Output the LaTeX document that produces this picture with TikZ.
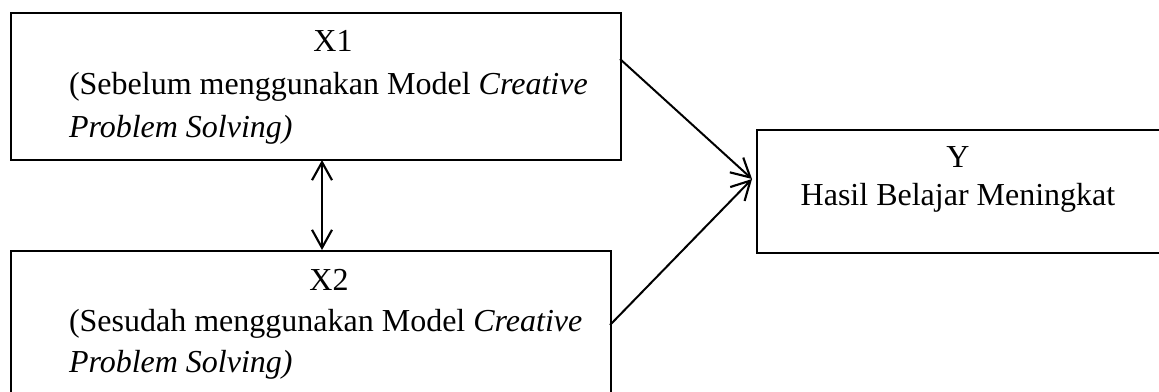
\documentclass[tikz,border=0pt]{standalone}
\usepackage{fontspec}
\setmainfont{Liberation Serif}
\usetikzlibrary{arrows.meta}
\begin{document}
\begin{tikzpicture}[x=0.375pt,y=-0.375pt, line width=0.75pt,
  box/.style={draw, rectangle, inner sep=0pt, anchor=north west},
  lbl/.style={inner sep=0pt, font=\fontsize{12}{14}\selectfont},
  arr/.style={-{Straight Barb[length=7pt,width=7.5pt,line width=0.8pt]}},
  dbl/.style={{Straight Barb[length=6.75pt,width=7.5pt,line width=0.8pt]}-{Straight Barb[length=6.75pt,width=7.5pt,line width=0.8pt]}}]
\useasboundingbox (0,0) rectangle (1159,392);
% boxes
\node[box, minimum width=228.75pt, minimum height=55.125pt] (x1) at (10,12) {};
\node[box, minimum width=225pt, minimum height=54.75pt] (x2) at (10,250) {};
\node[box, minimum width=165pt, minimum height=46.125pt] (y) at (756,129) {};
% texts
\node[lbl, anchor=base] (x1t) at (333,52) {X1};
\node[lbl, anchor=base west] (x1a) at (68,95) {(Sebelum menggunakan Model \textit{Creative}};
\node[lbl, anchor=base west] (x1b) at (68,138) {\textit{Problem Solving)}};
\node[lbl, anchor=base] (x2t) at (329,290) {X2};
\node[lbl, anchor=base west] (x2a) at (68,331) {(Sesudah menggunakan Model \textit{Creative}};
\node[lbl, anchor=base west] (x2b) at (68,372) {\textit{Problem Solving)}};
\node[lbl, anchor=base] (yt) at (958,168) {Y};
\node[lbl, anchor=base] (ya) at (958,205) {Hasil Belajar Meningkat};
% connector points
\coordinate (a1) at (620,59);
\coordinate (a2) at (610,325);
\coordinate (ty) at (752,179);
\coordinate (d1) at (322,160);
\coordinate (d2) at (322,250);
% connectors
\draw[arr] (a1) -- (ty);
\draw[arr] (a2) -- (ty);
\draw[dbl] (d1) -- (d2);
\end{tikzpicture}
\end{document}
